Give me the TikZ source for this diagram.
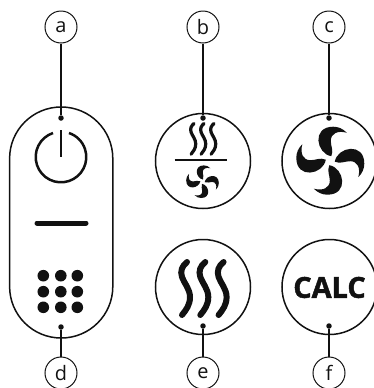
\documentclass[tikz,border=0pt]{standalone}
\usepackage{fontspec}
\setmainfont{Open Sans}
\definecolor{ink}{HTML}{111111}
\tikzset{
  x=1bp,y=-1bp,
  tag/.style={draw=ink,circle,line width=1bp,minimum size=32bp,inner sep=0pt,font=\fontsize{20}{20}\selectfont,text=ink},
  lens/.style={draw=ink,circle,line width=1.5bp,inner sep=0pt,minimum size=95bp},
  pin/.style={fill=ink,draw=none,circle,minimum size=5.5bp,inner sep=0pt},
  lead/.style={draw=ink,line width=1.1bp},
  key/.style={fill=ink,draw=none,circle,minimum size=11.6bp,inner sep=0pt},
}
\newcommand{\fanblades}[3]{%
  \foreach \r in {0,90,180,270}{%
    \fill[ink,shift={(#1,#2)},rotate=\r,scale=#3]
      (1,-4.5) .. controls (-14,-7) and (-19,-34) .. (3,-34)
      .. controls (8,-34) and (12.5,-32) .. (16.5,-28)
      .. controls (7,-30.5) and (0.5,-27) .. (0.5,-20)
      .. controls (0.5,-14) and (3.5,-10.5) .. (1,-4.5) -- cycle;
  }%
}
\newcommand{\heatwave}[4]{% x, y(top), scale, width
  \draw[ink,line width=#4,line cap=round,shift={(#1,#2)},scale=#3]
    (0,0) .. controls (-5,4) and (-7,9) .. (-5,15)
    .. controls (-3,21) and (3,27) .. (3,35)
    .. controls (3,43) and (-1,48) .. (-5,53);
}
\begin{document}
\begin{tikzpicture}
\useasboundingbox (0,0) rectangle (374,388);
% pill
\draw[ink,line width=1.5bp,rounded corners=51.5bp] (9.6,107) rectangle (112.8,338);
% power
\draw[ink,line width=2.5bp] (53,133) arc[start angle=251.6,end angle=-71.6,radius=25.3];
\draw[ink,line width=2.8bp] (61,130) -- (61,157);
% dash
\draw[ink,line width=5bp,line cap=round] (37,223) -- (86,223);
% keypad
\foreach \ky [count=\i] in {275.7,291.7,307.3}{
  \foreach \kx [count=\j] in {43.3,60.8,77.3}{
    \node[key] (k\i\j) at (\kx,\ky) {};
  }
}
% round buttons
\node[lens] (bb) at (203,161) {};
\node[lens] (cb) at (329.5,161) {};
\node[lens] (eb) at (203,287) {};
\node[lens] (fb) at (329.5,287) {};
% heat over fan
\foreach \hx in {194,204,214}{\heatwave{\hx}{123.5}{0.58}{3.2bp}}
\draw[ink,line width=2bp] (174.5,160) -- (226.5,160);
\fanblades{202.5}{181.7}{0.48}
% fan
\fanblades{330.3}{160.7}{1}
% heat
\foreach \hx in {187,205.3,223.6}{\heatwave{\hx}{262}{1}{6bp}}
% calc
\node[font=\fontsize{29}{29}\selectfont\bfseries,text=ink,inner sep=0pt] (calc) at (329.5,287.5) {\addfontfeature{FakeBold=1.5}CALC};
% tags
\node[tag] (a) at (61,27) {a};
\node[tag] (b) at (203,27) {b};
\node[tag] (c) at (329,27) {c};
\node[tag] (d) at (61,373) {d};
\node[tag] (e) at (203,373) {e};
\node[tag] (f) at (329,373) {f};
% pins
\node[pin] (pa) at (61,118) {};
\node[pin] (pb) at (203,118) {};
\node[pin] (pc) at (329,118) {};
\node[pin] (pd) at (61,327) {};
\node[pin] (pe) at (203,326) {};
\node[pin] (pf) at (329,326) {};
% leads
\draw[lead] (a) -- (pa);
\draw[lead] (b) -- (pb);
\draw[lead] (c) -- (pc);
\draw[lead] (d) -- (pd);
\draw[lead] (e) -- (pe);
\draw[lead] (f) -- (pf);
\end{tikzpicture}
\end{document}
